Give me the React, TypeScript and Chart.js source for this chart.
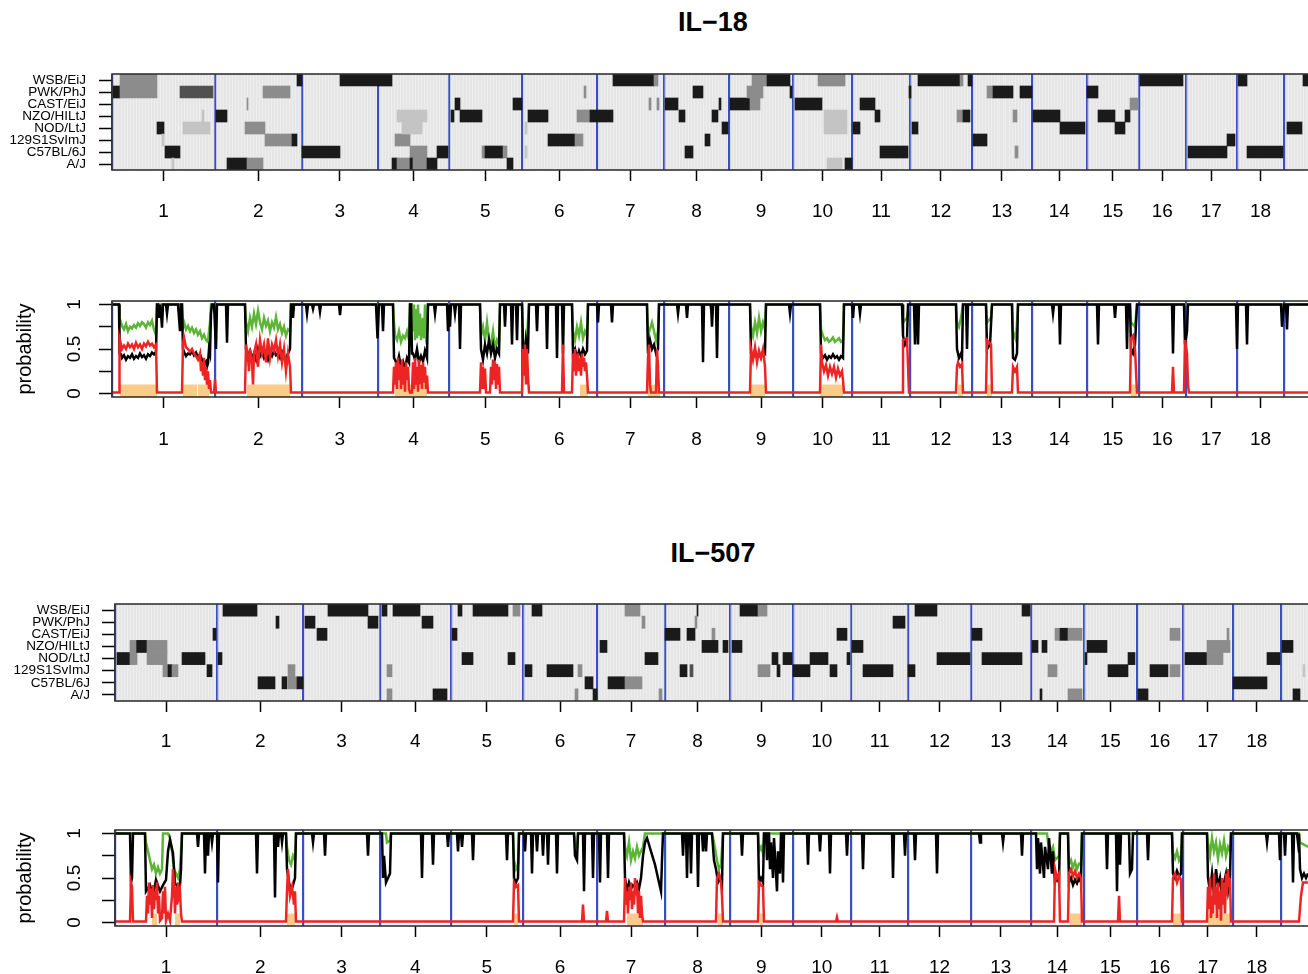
import React, { useEffect, useRef } from "react";
import { Chart, registerables } from "chart.js";
Chart.register(...registerables);

const FONT = "'Liberation Sans', Arial, Helvetica, sans-serif";

const STRAINS = ["WSB/EiJ", "PWK/PhJ", "CAST/EiJ", "NZO/HILtJ", "NOD/LtJ", "129S1SvImJ", "C57BL/6J", "A/J"];
const CHR_LABELS = ["1", "2", "3", "4", "5", "6", "7", "8", "9", "10", "11", "12", "13", "14", "15", "16", "17", "18"];
// chromosome start positions (genome units); last entry = start of chr 19
const CHR_STARTS_1 = [0, 103, 189.7, 266, 337, 409.7, 484.7, 552, 617, 681, 740, 798, 859.7, 920, 974.7, 1027, 1073.7, 1124.7, 1172.3];
const CHR_STARTS_2 = [0, 102.3, 188.3, 265, 335.7, 407.7, 482.3, 550, 615, 677.7, 736, 793.3, 855.7, 915.7, 969, 1021.7, 1067.7, 1117.7, 1166];
const X_MAX_1 = 1196;
const X_MAX_2 = 1193;
const Y_TICKS = [0, 0.25, 0.5, 0.75, 1];
const Y_TICK_LABELS = ["0", "", "0.5", "", "1"];
const SHADES = ["#e6e6e6", "#c4c4c4", "#8c8c8c", "#505050", "#1a1a1a"];

// heatmap segments: [strain, start, end, shade]
const HEAT_1 = [
  [0, 8, 45, 2], [1, 1, 8, 4], [1, 8, 45, 2], [1, 68, 101, 3], [4, 45, 52, 4], [4, 71, 98, 1], [6, 53, 68, 4],
  [5, 50, 52, 1], [7, 60, 62, 1], [3, 90, 92, 1],
  [3, 104, 115, 4], [7, 115, 135, 4], [7, 135, 151, 2], [4, 133, 153, 2], [1, 151, 178, 2], [5, 153, 180, 2], [5, 180, 185, 4], [0, 185, 190, 4], [2, 135, 136, 2],
  [6, 190, 228, 4], [0, 228, 266, 4],
  [0, 266, 280, 4], [5, 283, 298, 2], [6, 298, 315, 2], [6, 325, 336, 4], [7, 280, 285, 4], [7, 285, 298, 2], [7, 298, 301, 4], [7, 301, 315, 2], [7, 315, 325, 4], [3, 285, 315, 1], [4, 290, 310, 1],
  [3, 339, 342, 4], [3, 348, 370, 4], [2, 343, 348, 4], [6, 370, 373, 2], [6, 373, 391, 4], [6, 391, 395, 2], [7, 395, 401, 4], [2, 401, 410, 4],
  [3, 416, 436, 4], [5, 436, 463, 4], [5, 463, 471, 2], [3, 465, 478, 2], [3, 478, 485, 4], [1, 472, 474, 2], [4, 413, 415, 1], [6, 413, 415, 1],
  [3, 485, 501, 4], [0, 501, 542, 4], [0, 542, 546, 2], [2, 537, 539, 2], [2, 545, 547, 2],
  [2, 553, 566, 4], [3, 567, 573, 4], [6, 573, 581, 4], [1, 581, 591, 4], [5, 593, 598, 4], [3, 600, 606, 4], [2, 607, 609, 4], [4, 610, 616, 4],
  [2, 618, 638, 4], [2, 638, 648, 2], [1, 635, 651, 2], [0, 640, 655, 2], [0, 655, 678, 4], [1, 678, 680, 4],
  [2, 683, 710, 4], [0, 706, 733, 2], [7, 733, 740, 4], [3, 712, 735, 1], [4, 712, 735, 1], [7, 715, 730, 1],
  [4, 741, 748, 4], [2, 748, 763, 4], [3, 763, 768, 4], [6, 768, 796, 4], [1, 797, 799, 4],
  [4, 800, 806, 4], [0, 806, 848, 4], [0, 848, 851, 2], [0, 856, 860, 4], [3, 845, 851, 2], [3, 851, 858, 4],
  [5, 861, 875, 4], [1, 875, 881, 2], [1, 881, 901, 4], [1, 908, 920, 4], [3, 901, 905, 2], [6, 903, 906, 2],
  [3, 921, 948, 4], [4, 948, 973, 4],
  [1, 975, 986, 4], [3, 986, 1003, 4], [4, 1003, 1013, 4], [3, 1013, 1018, 4], [2, 1018, 1026, 2],
  [0, 1028, 1071, 4],
  [6, 1076, 1115, 4], [5, 1115, 1123, 4],
  [0, 1126, 1135, 4], [6, 1135, 1171, 4],
  [4, 1175, 1190, 4], [0, 1191, 1196, 4],
];

const HEAT_2 = [
  [4, 2, 15, 4], [4, 15, 22, 2], [3, 21, 32, 4], [3, 15, 21, 2], [3, 32, 52, 2], [4, 32, 52, 2], [5, 48, 53, 2], [5, 53, 57, 4], [5, 57, 63, 2],
  [4, 67, 90, 4], [5, 92, 97, 4], [2, 98, 101, 4],
  [4, 103, 107, 4], [0, 108, 142, 4], [1, 161, 164, 4], [6, 143, 160, 4], [6, 167, 172, 4], [6, 173, 182, 2], [6, 182, 188, 4], [5, 173, 180, 2],
  [1, 190, 200, 4], [2, 202, 212, 4], [0, 213, 253, 4], [1, 253, 263, 4],
  [0, 267, 272, 4], [0, 278, 305, 4], [1, 307, 318, 4], [5, 272, 277, 2], [7, 272, 277, 2], [7, 318, 332, 4],
  [0, 343, 347, 4], [0, 358, 393, 4], [0, 398, 405, 2], [2, 337, 342, 4], [4, 347, 358, 4], [4, 393, 400, 4],
  [0, 417, 427, 4], [5, 410, 417, 4], [5, 432, 458, 4], [5, 463, 467, 2], [6, 470, 478, 4], [7, 478, 482, 4], [7, 460, 463, 2],
  [0, 510, 525, 2], [1, 527, 530, 2], [3, 485, 492, 4], [4, 530, 543, 4], [6, 493, 510, 4], [6, 510, 527, 2], [7, 544, 547, 2],
  [0, 582, 583, 4], [1, 580, 582, 2], [2, 550, 565, 4], [2, 572, 580, 4], [2, 597, 600, 2], [3, 587, 603, 4], [3, 608, 613, 4], [5, 565, 572, 4], [5, 575, 578, 3],
  [0, 625, 643, 4], [0, 643, 652, 2], [3, 617, 627, 4], [4, 657, 663, 4], [4, 668, 677, 4], [5, 643, 655, 2], [5, 662, 665, 4],
  [2, 722, 732, 4], [4, 695, 713, 4], [4, 732, 735, 4], [5, 678, 695, 4], [5, 715, 722, 4],
  [3, 737, 748, 4], [1, 778, 790, 4], [5, 748, 778, 4],
  [0, 800, 822, 4], [5, 793, 800, 4], [4, 822, 855, 4],
  [2, 857, 867, 4], [4, 867, 907, 4], [0, 907, 915, 4],
  [3, 917, 923, 4], [3, 927, 932, 4], [2, 940, 945, 2], [2, 945, 953, 4], [2, 953, 967, 2], [5, 933, 942, 2], [7, 925, 927, 4], [7, 953, 967, 2],
  [3, 972, 992, 4], [4, 970, 972, 4], [4, 1013, 1020, 4], [5, 993, 1013, 4],
  [7, 1023, 1033, 4], [5, 1035, 1053, 4], [5, 1055, 1065, 2], [2, 1055, 1065, 2],
  [4, 1070, 1092, 4], [4, 1092, 1108, 2], [3, 1092, 1115, 2], [2, 1112, 1114, 2],
  [6, 1118, 1152, 4], [4, 1152, 1165, 4],
  [3, 1167, 1178, 4], [7, 1178, 1185, 4], [5, 1188, 1190, 1],
];

// probability series [position, value]
const BLACK_1 = [[0,1],[7,1],[7.5,0.45],[9,0.44],[10,0.40],[12,0.43],[14,0.38],[16,0.42],[18,0.40],[20,0.44],[22,0.39],[24,0.42],[26,0.40],[28,0.45],[30,0.41],[32,0.43],[34,0.39],[36,0.44],[38,0.42],[40,0.46],[42,0.44],[44,0.47],[45,1],[46,1],[47,0.85],[48,1],[49,0.9],[50,0.74],[51,1],[54,1],[55,0.9],[56,1],[66,1],[67,0.85],[68,0.7],[69,1],[70,1],[71,0.5],[72,0.47],[74,0.42],[76,0.45],[78,0.44],[80,0.48],[82,0.43],[84,0.46],[86,0.41],[88,0.44],[90,0.38],[92,0.33],[94,0.36],[95,0.3],[96,0.34],[97,0.5],[98,0.45],[99,0.9],[100,1],[102,1],[104,0.5],[105,1],[114,1],[115,0.57],[116,1],[133,1],[134,0.5],[136,0.42],[138,0.48],[140,0.4],[142,0.45],[144,0.38],[146,0.5],[148,0.42],[150,0.47],[152,0.4],[154,0.45],[156,0.38],[158,0.46],[160,0.42],[162,0.48],[164,0.43],[166,0.45],[168,0.4],[170,0.47],[172,0.42],[174,0.38],[176,0.45],[178,0.5],[179,1],[180,1],[181,0.85],[182,1],[194,1],[195,0.9],[196,1],[200,1],[201,0.95],[202,1],[207,1],[208,0.92],[209,1],[227,1],[228,0.88],[229,1],[264,1],[265.5,0.62],[267,1],[270,1],[271,0.7],[272,1],[281,1],[282,0.4],[283,0.38],[285,0.32],[287,0.42],[289,0.3],[291,0.36],[293,0.28],[295,0.4],[297,0.35],[298,1],[299,1],[300,0.45],[301,0.45],[303,0.38],[305,0.5],[307,0.35],[309,0.42],[311,0.36],[313,0.48],[315,0.4],[316,1],[322,1],[323,0.9],[324,1],[335,1],[336,0.7],[337,1],[338,0.75],[339,1],[342,1],[343,0.9],[344,1],[347,1],[348,0.5],[349,1],[368,1],[369,0.5],[371,0.38],[373,0.55],[375,0.45],[377,0.6],[379,0.45],[381,0.55],[383,0.4],[385,0.5],[387,0.45],[388,1],[392,1],[393,0.75],[394,1],[399,1],[400,0.55],[401,1],[404,1],[405,0.6],[406,1],[410,1],[411,0.55],[413,0.4],[414,0.6],[416,0.45],[417,1],[424,1],[425,0.7],[426,1],[434,1],[435,0.5],[436,1],[444,1],[445,0.4],[446,1],[450,1],[451,0.45],[452,1],[460,1],[461,0.45],[463,0.5],[465,0.4],[467,0.48],[469,0.42],[471,0.5],[473,0.44],[475,0.48],[476,1],[485,1],[486,0.8],[487,1],[499,1],[500,0.8],[501,1],[535,1],[536,0.45],[538,0.6],[540,0.5],[542,0.55],[544,0.45],[546,0.5],[547,1],[565,1],[566,0.9],[567,1],[574,1],[575,0.85],[576,1],[590,1],[591,0.35],[592,1],[599,1],[600,0.75],[601,1],[604,1],[605,0.4],[606,1],[638,1],[639,0.45],[641,0.4],[643,0.48],[645,0.42],[647,0.45],[649,0.4],[651,0.47],[653,0.45],[654,1],[677,1],[678,0.9],[679,1],[708,1],[709,0.45],[711,0.4],[713,0.43],[715,0.38],[717,0.42],[719,0.4],[721,0.44],[723,0.4],[725,0.42],[727,0.38],[729,0.42],[731,0.4],[732,1],[740,1],[741,0.85],[742,1],[747,1],[748,0.9],[749,1],[790,1],[791,0.65],[793,0.55],[795,0.6],[796,1],[802,1],[803,0.55],[804,1],[805,1],[806,0.55],[807,1],[844,1],[845,0.5],[847,0.4],[849,0.45],[850,0.4],[851,1],[854,1],[855,0.5],[856,1],[874,1],[875,0.5],[878,0.55],[880,1],[900,1],[901,0.4],[903,0.38],[905,0.45],[906,1],[940,1],[941,0.9],[942,1],[947,1],[948,0.55],[949,1],[985,1],[986,0.55],[987,1],[1002,1],[1003,0.85],[1004,1],[1014,1],[1015,0.5],[1016,1],[1018,1],[1019,0.5],[1021,0.45],[1023,0.55],[1025,1],[1060,1],[1061,0.45],[1062,1],[1072,1],[1073,0.55],[1075,0.7],[1076,1],[1124,1],[1125,0.5],[1126,1],[1134,1],[1135,0.55],[1136,1],[1169,1],[1170,0.75],[1172,1],[1174,1],[1175,0.72],[1176,1],[1196,1]];

const GREEN_1 = [[0,1],[7,1],[7.5,0.85],[10,0.76],[12,0.72],[14,0.78],[16,0.7],[18,0.75],[20,0.73],[22,0.77],[24,0.74],[26,0.79],[28,0.76],[30,0.8],[32,0.78],[34,0.74],[36,0.8],[38,0.77],[40,0.82],[42,0.72],[44,0.65],[45,1],[70,1],[71,0.75],[72,0.8],[74,0.72],[76,0.76],[78,0.7],[80,0.74],[82,0.68],[84,0.72],[86,0.66],[88,0.7],[90,0.62],[92,0.66],[94,0.6],[96,0.58],[97,0.7],[98,0.8],[99,1],[133,1],[134,0.8],[136,0.7],[138,0.85],[140,0.75],[142,0.9],[144,0.78],[146,0.93],[148,0.8],[150,0.72],[152,0.85],[154,0.76],[156,0.82],[158,0.7],[160,0.8],[162,0.74],[164,0.86],[166,0.72],[168,0.78],[170,0.68],[172,0.75],[174,0.65],[176,0.72],[178,0.7],[179,1],[281,1],[282,0.8],[283,0.65],[285,0.6],[287,0.7],[289,0.58],[291,0.65],[293,0.62],[295,0.7],[297,0.6],[298,1],[300,1],[301,0.7],[302,1],[303,0.6],[304,0.95],[305,0.62],[306,1],[307,0.65],[308,0.9],[309,0.6],[311,0.85],[312,0.62],[313,1],[314,0.65],[315,0.7],[316,1],[368,1],[369,0.65],[371,0.75],[373,0.6],[375,0.8],[377,0.6],[379,0.55],[381,0.7],[383,0.5],[385,0.6],[387,0.55],[388,1],[410,1],[411,0.6],[413,0.5],[415,0.65],[417,1],[460,1],[461,0.7],[463,0.6],[465,0.75],[467,0.65],[469,0.8],[471,0.62],[473,0.7],[475,0.65],[476,1],[535,1],[536,0.65],[540,0.8],[544,0.6],[546,0.7],[547,1],[598,1],[600,0.9],[601,1],[638,1],[639,0.75],[641,0.65],[643,0.8],[645,0.68],[647,0.85],[649,0.7],[651,0.8],[653,0.72],[654,1],[708,1],[709,0.72],[711,0.65],[713,0.6],[715,0.62],[717,0.58],[719,0.6],[721,0.63],[723,0.58],[725,0.6],[727,0.62],[729,0.58],[731,0.6],[732,1],[790,1],[791,0.8],[795,0.85],[797,1],[844,1],[845,0.8],[847,0.75],[849,0.85],[851,1],[874,1],[875,0.8],[879,0.85],[880,1],[900,1],[901,0.7],[904,0.6],[906,1],[1018,1],[1019,0.8],[1023,0.75],[1025,1],[1196,1]];

const RED_1 = [[0,0.01],[7,0.01],[7.5,0.62],[9,0.55],[10,0.5],[12,0.54],[14,0.5],[16,0.56],[18,0.52],[20,0.55],[22,0.5],[24,0.57],[26,0.52],[28,0.55],[30,0.5],[32,0.56],[34,0.53],[36,0.58],[38,0.54],[40,0.56],[42,0.52],[44,0.55],[45,0.01],[70,0.01],[71,0.55],[72,0.63],[74,0.52],[76,0.5],[78,0.47],[80,0.5],[82,0.45],[84,0.42],[86,0.38],[88,0.45],[89,0.25],[90,0.35],[91,0.2],[92,0.4],[93,0.15],[94,0.3],[95,0.1],[96,0.25],[97,0.05],[98,0.15],[99,0.01],[102,0.01],[103,0.16],[104,0.01],[133,0.01],[134,0.55],[136,0.4],[137,0.25],[138,0.5],[140,0.35],[141,0.1],[142,0.45],[144,0.55],[146,0.3],[148,0.6],[150,0.45],[152,0.55],[154,0.35],[156,0.62],[158,0.4],[160,0.55],[162,0.48],[164,0.6],[166,0.42],[168,0.55],[170,0.35],[172,0.5],[174,0.25],[176,0.45],[178,0.3],[179,0.01],[281,0.01],[282,0.3],[283,0.1],[284,0.35],[285,0.05],[286,0.4],[287,0.15],[288,0.32],[289,0.05],[290,0.38],[291,0.1],[292,0.3],[293,0.02],[294,0.35],[295,0.15],[296,0.3],[297,0.05],[298,0.01],[300,0.01],[301,0.35],[302,0.05],[303,0.4],[304,0.1],[305,0.3],[306,0.02],[307,0.38],[308,0.1],[309,0.32],[310,0.05],[311,0.35],[312,0.12],[313,0.3],[314,0.05],[315,0.2],[316,0.01],[368,0.01],[369,0.35],[370,0.05],[371,0.3],[372,0.05],[373,0.28],[374,0.01],[378,0.01],[379,0.3],[380,0.1],[381,0.38],[382,0.15],[383,0.35],[384,0.05],[385,0.33],[386,0.1],[387,0.3],[388,0.01],[410,0.01],[411,0.5],[412,0.2],[413,0.55],[414,0.1],[415,0.5],[416,0.2],[417,0.01],[450,0.01],[451,0.55],[452,0.01],[460,0.01],[461,0.45],[462,0.25],[463,0.5],[464,0.2],[465,0.35],[466,0.45],[467,0.25],[468,0.4],[469,0.2],[470,0.45],[471,0.3],[472,0.4],[473,0.25],[474,0.35],[475,0.2],[476,0.01],[535,0.01],[536,0.4],[537,0.55],[538,0.1],[539,0.01],[544,0.01],[545,0.5],[546,0.3],[547,0.01],[638,0.01],[639,0.5],[641,0.38],[643,0.52],[645,0.35],[647,0.48],[649,0.4],[651,0.5],[653,0.3],[654,0.01],[708,0.01],[709,0.55],[710,0.35],[712,0.25],[714,0.32],[716,0.2],[718,0.3],[720,0.22],[722,0.3],[724,0.18],[726,0.28],[728,0.2],[730,0.25],[731,0.15],[732,0.01],[790,0.01],[791,0.6],[795,0.62],[797,0.01],[844,0.01],[845,0.3],[846,0.35],[848,0.3],[850,0.33],[851,0.01],[874,0.01],[875,0.6],[879,0.55],[880,0.01],[900,0.01],[901,0.3],[903,0.25],[905,0.3],[906,0.01],[1018,0.01],[1019,0.62],[1021,0.65],[1023,0.5],[1025,0.01],[1060,0.01],[1061,0.3],[1062,0.01],[1072,0.01],[1073,0.6],[1075,0.45],[1076,0.1],[1077,0.01],[1196,0.01]];

const ORANGE_1 = [[8,45],[71,85],[86,97],[135,178],[283,315],[468,476],[536,548],[638,653],[708,731],[846,851],[875,880],[1019,1025]];

const BLACK_2 = [[0,1],[15,1],[16,0.45],[17,0.5],[18,1],[30,1],[31,0.35],[35,0.42],[38,0.3],[41,0.48],[45,0.35],[48,0.42],[51,0.48],[53,0.8],[55,0.93],[58,0.78],[60,0.44],[63,0.4],[65,0.42],[66,0.6],[67,1],[82,1],[83,0.85],[84,1],[89,1],[90,0.55],[91,1],[92,1],[93,0.75],[94,1],[96,1],[97,0.9],[98,1],[102,1],[103,0.45],[104,1],[141,1],[142,0.55],[143,1],[159,1],[160,0.28],[161,1],[162,1],[163,0.85],[164,1],[166,1],[167,0.9],[168,1],[171,1],[172,0.6],[174,0.45],[176,0.35],[178,0.42],[180,0.5],[181,1],[197,1],[198,0.9],[199,1],[209,1],[210,0.75],[211,1],[252,1],[253,0.75],[254,1],[267,1],[268,0.5],[269,0.75],[271,0.45],[273,0.5],[275,0.55],[276,1],[306,1],[307,0.5],[308,1],[317,1],[318,0.65],[319,1],[332,1],[333,0.85],[334,1],[342,1],[343,0.8],[344,1],[346,1],[347,0.85],[348,1],[357,1],[358,0.7],[359,1],[391,1],[392,0.7],[393,1],[398,1],[399,0.5],[401,0.45],[403,0.5],[404,1],[409,1],[410,0.8],[411,1],[416,1],[417,0.55],[418,1],[421,1],[422,0.8],[423,1],[427,1],[428,0.75],[429,1],[432,1],[433,0.65],[434,1],[441,1],[442,0.55],[443,1],[459,1],[460,0.75],[462,0.7],[463,1],[468,1],[469,0.35],[470,1],[477,1],[478,0.5],[479,1],[484,1],[485,0.45],[486,1],[492,1],[493,0.5],[494,1],[509,1],[510,0.5],[512,0.35],[514,0.45],[516,0.38],[518,0.42],[520,0.4],[522,0.45],[524,0.38],[526,0.5],[528,0.75],[530,0.9],[532,0.95],[536,0.8],[540,0.65],[544,0.45],[546,0.35],[547,0.7],[548,1],[567,1],[568,0.75],[569,1],[571,1],[572,0.5],[573,1],[575,1],[576,0.55],[577,1],[582,1],[583,0.4],[584,1],[587,1],[588,0.8],[589,1],[590,1],[591,0.8],[592,1],[597,1],[599,0.7],[601,0.6],[603,0.45],[605,0.5],[607,0.42],[608,1],[626,1],[627,0.75],[628,1],[643,1],[644,0.45],[646,0.5],[648,0.45],[649,1],[651,1],[652,0.7],[653,1],[654,1],[655,0.6],[656,0.9],[658,0.5],[659,0.95],[662,0.35],[663,0.8],[665,0.55],[666,1],[667,1],[668,0.45],[669,1],[692,1],[693,0.65],[694,1],[704,1],[705,0.8],[706,1],[714,1],[715,0.55],[716,1],[731,1],[732,0.75],[733,1],[747,1],[748,0.6],[749,1],[777,1],[778,0.5],[779,1],[789,1],[790,0.75],[791,1],[799,1],[800,0.7],[801,1],[821,1],[822,0.55],[823,1],[864,1],[865,0.9],[866,1],[887,1],[888,0.9],[889,1],[906,1],[907,0.75],[908,1],[921,1],[922,0.6],[923,0.95],[925,0.55],[926,0.9],[929,0.5],[930,0.85],[933,0.6],[934,0.95],[937,0.55],[938,0.8],[940,0.45],[942,0.5],[944,0.45],[945,1],[953,1],[954,0.45],[956,0.5],[958,0.42],[960,0.48],[962,0.44],[964,0.5],[966,0.45],[967,1],[991,1],[992,0.6],[993,1],[1001,1],[1002,0.35],[1003,1],[1004,1],[1005,0.65],[1006,1],[1014,1],[1015,0.55],[1017,0.6],[1018,1],[1032,1],[1033,0.7],[1034,1],[1057,1],[1058,0.55],[1060,0.5],[1062,0.58],[1064,0.52],[1066,0.55],[1067,1],[1092,1],[1093,0.5],[1095,0.35],[1097,0.55],[1099,0.3],[1101,0.6],[1103,0.4],[1105,0.5],[1107,0.3],[1109,0.45],[1111,0.55],[1113,0.35],[1115,0.5],[1116,1],[1151,1],[1152,0.9],[1153,1],[1164,1],[1165,0.7],[1166,1],[1169,1],[1170,0.75],[1171,1],[1177,1],[1178,0.45],[1179,1],[1182,1],[1183,0.9],[1184,1],[1185,0.6],[1187,0.5],[1189,0.55],[1191,0.5],[1193,0.55]];

const GREEN_2 = [[0,1],[30,1],[31,0.9],[33,0.8],[35,0.7],[37,0.6],[39,0.65],[41,0.55],[43,0.62],[45,0.55],[47,0.6],[48,1],[53,1],[55,0.95],[57,0.8],[59,0.6],[61,0.55],[63,0.5],[65,0.6],[67,1],[171,1],[172,0.85],[174,0.7],[176,0.65],[178,0.75],[180,0.7],[181,1],[271,1],[272,0.9],[275,0.92],[276,1],[398,1],[399,0.7],[401,0.6],[403,0.65],[404,1],[459,1],[460,0.9],[462,0.85],[463,1],[509,1],[510,0.85],[512,0.75],[514,0.9],[516,0.7],[518,0.8],[520,0.72],[522,0.85],[524,0.75],[526,0.8],[528,0.85],[530,1],[597,1],[599,0.9],[602,0.7],[604,0.6],[606,0.65],[608,1],[643,1],[644,0.8],[646,0.85],[648,0.78],[649,1],[932,1],[933,0.9],[936,0.8],[938,0.85],[940,0.7],[944,0.75],[945,1],[953,1],[954,0.65],[956,0.7],[958,0.62],[960,0.68],[962,0.6],[964,0.66],[966,0.65],[967,1],[1057,1],[1058,0.78],[1060,0.72],[1062,0.8],[1064,0.7],[1066,0.75],[1067,1],[1092,1],[1093,0.9],[1095,0.75],[1097,0.95],[1099,0.8],[1101,0.9],[1103,0.72],[1105,0.88],[1107,0.78],[1109,0.92],[1111,0.75],[1113,0.85],[1115,0.8],[1116,1],[1184,1],[1185,0.9],[1193,0.85]];

const RED_2 = [[0,0.01],[15,0.01],[16,0.45],[17,0.4],[18,0.01],[31,0.01],[32,0.3],[33,0.1],[34,0.45],[35,0.2],[36,0.38],[37,0.05],[38,0.42],[39,0.15],[40,0.35],[41,0.25],[42,0.45],[43,0.1],[44,0.3],[45,0.02],[47,0.05],[48,0.35],[49,0.1],[50,0.4],[51,0.02],[53,0.1],[55,0.02],[57,0.3],[58,0.6],[59,0.45],[60,0.1],[61,0.4],[62,0.2],[63,0.45],[64,0.3],[65,0.35],[66,0.1],[67,0.01],[171,0.01],[172,0.35],[173,0.6],[175,0.3],[177,0.4],[179,0.2],[180,0.35],[181,0.01],[398,0.01],[399,0.45],[401,0.4],[403,0.42],[404,0.01],[467,0.01],[468,0.2],[469,0.01],[491,0.01],[492,0.13],[493,0.01],[509,0.01],[510,0.5],[511,0.2],[512,0.35],[513,0.1],[514,0.4],[515,0.25],[516,0.45],[517,0.15],[518,0.35],[519,0.2],[520,0.5],[521,0.3],[522,0.45],[523,0.1],[524,0.35],[525,0.05],[526,0.3],[527,0.1],[528,0.01],[601,0.01],[602,0.5],[604,0.55],[606,0.45],[607,0.3],[608,0.01],[643,0.01],[644,0.45],[646,0.42],[648,0.4],[649,0.01],[721,0.01],[722,0.06],[723,0.01],[939,0.01],[940,0.6],[942,0.5],[944,0.55],[945,0.01],[953,0.01],[954,0.55],[956,0.6],[958,0.52],[960,0.58],[962,0.5],[964,0.55],[966,0.5],[967,0.01],[1003,0.01],[1004,0.3],[1005,0.01],[1057,0.01],[1058,0.5],[1060,0.55],[1062,0.45],[1064,0.52],[1066,0.48],[1067,0.01],[1092,0.01],[1093,0.4],[1094,0.15],[1095,0.5],[1096,0.05],[1097,0.3],[1098,0.1],[1099,0.55],[1100,0.2],[1101,0.4],[1102,0.05],[1103,0.45],[1104,0.15],[1105,0.35],[1106,0.02],[1107,0.5],[1108,0.2],[1109,0.45],[1110,0.1],[1111,0.55],[1112,0.3],[1113,0.6],[1114,0.4],[1115,0.5],[1116,0.01],[1184,0.01],[1186,0.3],[1188,0.45],[1193,0.45]];

const ORANGE_2 = [[37,42],[60,65],[172,180],[399,403],[512,528],[603,608],[645,648],[955,967],[1058,1067],[1093,1115]];

const BLUE = "#3a4ec4";
const GREEN_C = "#5cb536";
const RED_C = "#ec2424";
const ORANGE_C = "#fbcb8c";

const boxPlugin = {
  id: "box",
  beforeDraw(chart: any, _a: any, opts: any) {
    if (!opts || !opts.bg) return;
    const { ctx, chartArea: a } = chart;
    ctx.save();
    ctx.fillStyle = opts.bg;
    ctx.fillRect(a.left, a.top, a.right - a.left, a.bottom - a.top);
    ctx.restore();
  },
  afterDraw(chart: any) {
    const { ctx, chartArea: a } = chart;
    ctx.save();
    ctx.strokeStyle = "#333";
    ctx.lineWidth = 1.6;
    ctx.strokeRect(a.left, a.top, a.right - a.left + 10, a.bottom - a.top);
    ctx.restore();
  },
};

function mids(starts: number[]) {
  return CHR_LABELS.map((_, i) => (starts[i] + starts[i + 1]) / 2);
}

function xScales(p: any, stripes: boolean) {
  const s: any = {
    x: {
      type: "linear", min: 0, max: p.max, bounds: "data", position: "bottom",
      afterBuildTicks: (sc: any) => { sc.ticks = mids(p.starts).map((v) => ({ value: v })); },
      afterFit: (sc: any) => { sc.height = p.xH; },
      grid: { drawOnChartArea: false, drawTicks: true, tickLength: 11, tickColor: "#000", tickWidth: 1.5 },
      border: { display: false },
      ticks: {
        autoSkip: false, minRotation: 0, maxRotation: 0, padding: p.xPad, color: "#000",
        font: { family: FONT, size: 19 },
        callback: (_v: any, i: number) => CHR_LABELS[i],
      },
    },
    xb: {
      type: "linear", min: 0, max: p.max, bounds: "data", position: "bottom", z: 2,
      afterBuildTicks: (sc: any) => { sc.ticks = p.starts.map((v: number) => ({ value: v })); },
      afterFit: (sc: any) => { sc.height = 0; },
      grid: { color: BLUE, lineWidth: 2.2, drawTicks: false },
      border: { display: false },
      ticks: { display: false },
    },
  };
  if (stripes) {
    s.xs = {
      type: "linear", min: 0, max: p.max, bounds: "data", position: "bottom", z: 1,
      afterFit: (sc: any) => { sc.height = 0; },
      grid: { color: "rgba(255,255,255,0.28)", lineWidth: 1, drawTicks: false },
      border: { display: false },
      ticks: { display: false, stepSize: 3, maxTicksLimit: 1000 },
    };
  }
  return s;
}

function heatConfig(p: any) {
  return {
    type: "bar",
    plugins: [boxPlugin],
    data: {
      labels: STRAINS,
      datasets: [{
        data: p.heat.map((h: number[]) => ({ x: [h[1], h[2]], y: STRAINS[h[0]] })),
        backgroundColor: p.heat.map((h: number[]) => SHADES[h[3]]),
        borderWidth: 0, borderSkipped: false, barPercentage: 1, categoryPercentage: 1, grouped: false,
      }],
    },
    options: {
      indexAxis: "y", responsive: false, animation: false, devicePixelRatio: 1,
      layout: { padding: { top: p.padTop, left: 0, right: 0, bottom: 0 } },
      plugins: { legend: { display: false }, tooltip: { enabled: false }, box: { bg: SHADES[0] } },
      scales: {
        ...xScales(p, true),
        y: {
          type: "category", labels: STRAINS, position: "left",
          afterFit: (sc: any) => { sc.width = p.left; },
          grid: { offset: false, drawOnChartArea: false, tickLength: 13, tickColor: "#000", tickWidth: 1.5 },
          border: { display: false },
          ticks: { autoSkip: false, padding: p.yPad, color: "#000", font: { family: FONT, size: 13.5 } },
        },
      },
    },
  };
}

function probConfig(p: any) {
  const pts = (arr: number[][]) => arr.map((d) => ({ x: d[0], y: d[1] }));
  const orange: any[] = [];
  p.orange.forEach((r: number[]) => {
    orange.push({ x: r[0], y: 0.1 }, { x: r[1], y: 0.1 }, { x: r[1], y: null });
  });
  const line = (data: any, color: string) => ({
    data, borderColor: color, borderWidth: 2.5, pointRadius: 0, fill: false, tension: 0,
  });
  return {
    type: "line",
    plugins: [boxPlugin],
    data: {
      datasets: [
        line(pts(p.red), RED_C),
        line(pts(p.black), "#000"),
        line(pts(p.green), GREEN_C),
        { data: orange, borderWidth: 0, borderColor: ORANGE_C, backgroundColor: ORANGE_C, pointRadius: 0, fill: "start", tension: 0 },
      ],
    },
    options: {
      responsive: false, animation: false, devicePixelRatio: 1,
      layout: { padding: { top: p.padTop, left: 0, right: 0, bottom: 0 } },
      plugins: { legend: { display: false }, tooltip: { enabled: false }, box: {} },
      scales: {
        ...xScales(p, false),
        y: {
          type: "linear", min: -0.04, max: 1.04, position: "left",
          afterBuildTicks: (sc: any) => { sc.ticks = Y_TICKS.map((v) => ({ value: v })); },
          afterFit: (sc: any) => { sc.width = p.left; },
          grid: { drawOnChartArea: false, tickLength: 13, tickColor: "#000", tickWidth: 1.5 },
          border: { display: false },
          ticks: {
            autoSkip: false, minRotation: 90, maxRotation: 90, crossAlign: "center", padding: p.yPad,
            color: "#000", font: { family: FONT, size: 19 },
            callback: (_v: any, i: number) => Y_TICK_LABELS[i],
          },
          title: { display: true, text: "probability", color: "#000", font: { family: FONT, size: 20 }, padding: { top: 13, bottom: 0 } },
        },
      },
    },
  };
}

const PANELS = [
  { kind: "heat", top: 40, height: 200, padTop: 34, left: 112, xH: 70, xPad: 19.6, yPad: 13, starts: CHR_STARTS_1, max: X_MAX_1, heat: HEAT_1 },
  { kind: "prob", top: 260, height: 200, padTop: 41, left: 112, xH: 63, xPad: 20.6, yPad: 10.8, starts: CHR_STARTS_1, max: X_MAX_1, red: RED_1, black: BLACK_1, green: GREEN_1, orange: ORANGE_1 },
  { kind: "heat", top: 570, height: 200, padTop: 34, left: 115, xH: 69, xPad: 18.6, yPad: 12, starts: CHR_STARTS_2, max: X_MAX_2, heat: HEAT_2 },
  { kind: "prob", top: 790, height: 184, padTop: 40, left: 115, xH: 48, xPad: 19.6, yPad: 13.8, starts: CHR_STARTS_2, max: X_MAX_2, red: RED_2, black: BLACK_2, green: GREEN_2, orange: ORANGE_2 },
];

export default function App() {
  const refs = [useRef<HTMLCanvasElement>(null), useRef<HTMLCanvasElement>(null), useRef<HTMLCanvasElement>(null), useRef<HTMLCanvasElement>(null)];
  useEffect(() => {
    const charts = PANELS.map((p, i) => {
      const cfg: any = p.kind === "heat" ? heatConfig(p) : probConfig(p);
      return new Chart(refs[i].current as HTMLCanvasElement, cfg);
    });
    return () => charts.forEach((c) => c.destroy());
  }, []);
  const titleStyle: any = {
    position: "absolute", left: 513, width: 400, textAlign: "center",
    font: `bold 27px ${FONT}`, lineHeight: "32px", color: "#000",
  };
  return (
    <div style={{ position: "absolute", left: 0, top: 0, width: 1308, height: 974, overflow: "hidden", background: "#fff" }}>
      <div style={{ ...titleStyle, top: 6 }}>IL−18</div>
      <div style={{ ...titleStyle, top: 537 }}>IL−507</div>
      {PANELS.map((p, i) => (
        <canvas key={i} ref={refs[i]} width={1308} height={p.height}
          style={{ position: "absolute", left: 0, top: p.top, display: "block" }} />
      ))}
    </div>
  );
}
